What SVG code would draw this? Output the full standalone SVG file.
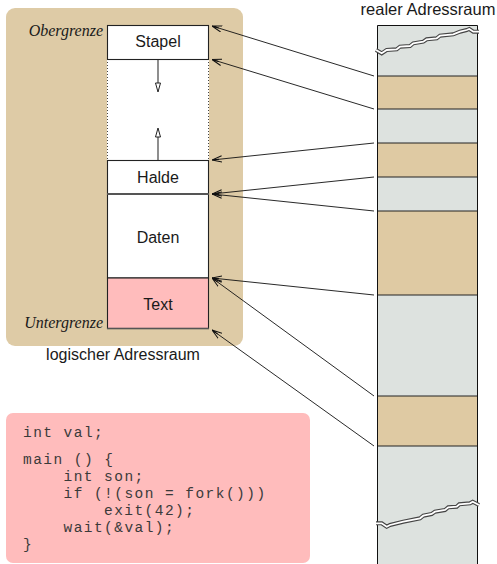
<svg xmlns="http://www.w3.org/2000/svg" width="497" height="564" viewBox="0 0 497 564">
<style>
.lbl{font-family:"Liberation Sans",Arial,sans-serif;font-size:16px;fill:#1a1a1a;}
.it{font-family:"Liberation Serif","Times New Roman",serif;font-style:italic;font-size:16px;fill:#1a1a1a;}
.code{font-family:"Liberation Mono","Courier New",monospace;font-size:14.5px;letter-spacing:1.45px;fill:#3a3a3a;}
.seg{stroke:#222;stroke-width:1.1;}
.conn{stroke:#111;stroke-width:0.9;fill:none;marker-end:url(#ah);}
.band{stroke:#222;stroke-width:1;}
</style>
<defs>
<marker id="ah" viewBox="0 0 10 8" refX="10" refY="4" markerWidth="10" markerHeight="8" orient="auto" markerUnits="userSpaceOnUse">
<path d="M0,0.8 L10,4 L0,7.2 M3,4 L10,4" fill="none" stroke="#111" stroke-width="1"/>
</marker>
</defs>
<rect width="497" height="564" fill="#fff"/>

<g id="logical-space">
<rect x="6" y="8" width="237" height="338" rx="9" fill="#decba6"/>
<text class="it" x="103" y="36" text-anchor="end">Obergrenze</text>
<text class="it" x="103" y="328" text-anchor="end">Untergrenze</text>
<text class="lbl" x="123" y="360" text-anchor="middle">logischer Adressraum</text>
</g>

<g id="gap">
<rect x="107" y="59" width="102" height="101" fill="#fff"/>
<line x1="107.5" y1="59" x2="107.5" y2="160" stroke="#444" stroke-width="1" stroke-dasharray="1,2"/>
<line x1="208.5" y1="59" x2="208.5" y2="160" stroke="#444" stroke-width="1" stroke-dasharray="1,2"/>
<line x1="158" y1="60" x2="158" y2="84" stroke="#444" stroke-width="1.2"/>
<polygon points="155.5,83 160.5,83 158,92" fill="#fff" stroke="#222" stroke-width="1"/>
<line x1="158" y1="136" x2="158" y2="160" stroke="#444" stroke-width="1.2"/>
<polygon points="155.5,137 160.5,137 158,128" fill="#fff" stroke="#222" stroke-width="1"/>
</g>

<g id="stapel">
<rect x="107.5" y="25.5" width="101" height="34" fill="#fff" class="seg"/>
<text class="lbl" x="158" y="47" text-anchor="middle">Stapel</text>
</g>
<g id="halde">
<rect x="107.5" y="160.5" width="101" height="33.5" fill="#fff" class="seg"/>
<text class="lbl" x="158" y="183" text-anchor="middle">Halde</text>
</g>
<g id="daten">
<rect x="107.5" y="194" width="101" height="84" fill="#fff" class="seg"/>
<line x1="107" y1="194" x2="209" y2="194" stroke="#555" stroke-width="2"/>
<text class="lbl" x="158" y="243" text-anchor="middle">Daten</text>
</g>
<g id="text-seg">
<rect x="107.5" y="278" width="101" height="50.5" fill="#ffbcbc" class="seg"/>
<line x1="107" y1="328.5" x2="209" y2="328.5" stroke="#555" stroke-width="1.6"/>
<text class="lbl" x="158" y="310" text-anchor="middle">Text</text>
</g>

<g id="real-space">
<text class="lbl" x="428" y="15" text-anchor="middle" style="font-size:16.5px">realer Adressraum</text>
<rect x="377" y="25" width="101" height="545" fill="#dde2df"/>
<rect x="377" y="76" width="101" height="33" fill="#dfcaa3"/>
<rect x="377" y="143" width="101" height="34" fill="#dfcaa3"/>
<rect x="377" y="211" width="101" height="84" fill="#dfcaa3"/>
<rect x="377" y="396" width="101" height="50" fill="#dfcaa3"/>
<line class="band" x1="377" y1="76" x2="478" y2="76"/>
<line class="band" x1="377" y1="109" x2="478" y2="109"/>
<line class="band" x1="377" y1="143" x2="478" y2="143"/>
<line class="band" x1="377" y1="177" x2="478" y2="177"/>
<line class="band" x1="377" y1="211" x2="478" y2="211"/>
<line class="band" x1="377" y1="295" x2="478" y2="295"/>
<line class="band" x1="377" y1="396" x2="478" y2="396"/>
<line class="band" x1="377" y1="446" x2="478" y2="446"/>
<path d="M377.5,564 L377.5,25.5 L477.5,25.5 L477.5,564" fill="none" stroke="#111" stroke-width="1"/>
<path d="M376,50 L381.7,53.3 L386.7,50 L396.7,49.3 L400,46.7 L410,46 L413.3,43.3 L423.3,41.7 L426.7,39.3 L436.7,38.3 L440,35.7 L453.3,34.3 L460,31.7 L466.7,30 L469.3,29 L473.3,31.7 L479,31.7" fill="none" stroke="#444" stroke-width="4"/>
<path d="M376,50 L381.7,53.3 L386.7,50 L396.7,49.3 L400,46.7 L410,46 L413.3,43.3 L423.3,41.7 L426.7,39.3 L436.7,38.3 L440,35.7 L453.3,34.3 L460,31.7 L466.7,30 L469.3,29 L473.3,31.7 L479,31.7" fill="none" stroke="#fff" stroke-width="1.8"/>
<path d="M376,523.3 L381.7,523.3 L386.7,526.7 L390,525 L403.3,521.7 L420,518.3 L423.3,515.7 L431.7,514 L435,511.7 L445,510 L448.3,507.3 L456.7,506.7 L459.3,504.3 L470,503.3 L472.7,501.7 L479,505" fill="none" stroke="#444" stroke-width="4"/>
<path d="M376,523.3 L381.7,523.3 L386.7,526.7 L390,525 L403.3,521.7 L420,518.3 L423.3,515.7 L431.7,514 L435,511.7 L445,510 L448.3,507.3 L456.7,506.7 L459.3,504.3 L470,503.3 L472.7,501.7 L479,505" fill="none" stroke="#fff" stroke-width="1.8"/>
</g>

<g id="connectors">
<line class="conn" x1="374" y1="76" x2="212" y2="26"/>
<line class="conn" x1="374" y1="109" x2="212" y2="59.5"/>
<line class="conn" x1="374" y1="143" x2="212" y2="160"/>
<line class="conn" x1="374" y1="177" x2="212" y2="194"/>
<line class="conn" x1="374" y1="211" x2="212" y2="194"/>
<line class="conn" x1="374" y1="295" x2="212" y2="278"/>
<line class="conn" x1="374" y1="396" x2="212" y2="278"/>
<line class="conn" x1="374" y1="446" x2="212" y2="330"/>
</g>

<g id="code">
<rect x="6" y="413" width="304" height="150" rx="7" fill="#ffbcbc"/>
<text class="code" x="23" y="437">int val;</text>
<text class="code" x="23" y="464">main () {</text>
<text class="code" x="63.5" y="481">int son;</text>
<text class="code" x="63.5" y="498">if (!(son = fork()))</text>
<text class="code" x="104" y="515">exit(42);</text>
<text class="code" x="63.5" y="532">wait(&amp;val);</text>
<text class="code" x="23" y="549">}</text>
</g>
</svg>
